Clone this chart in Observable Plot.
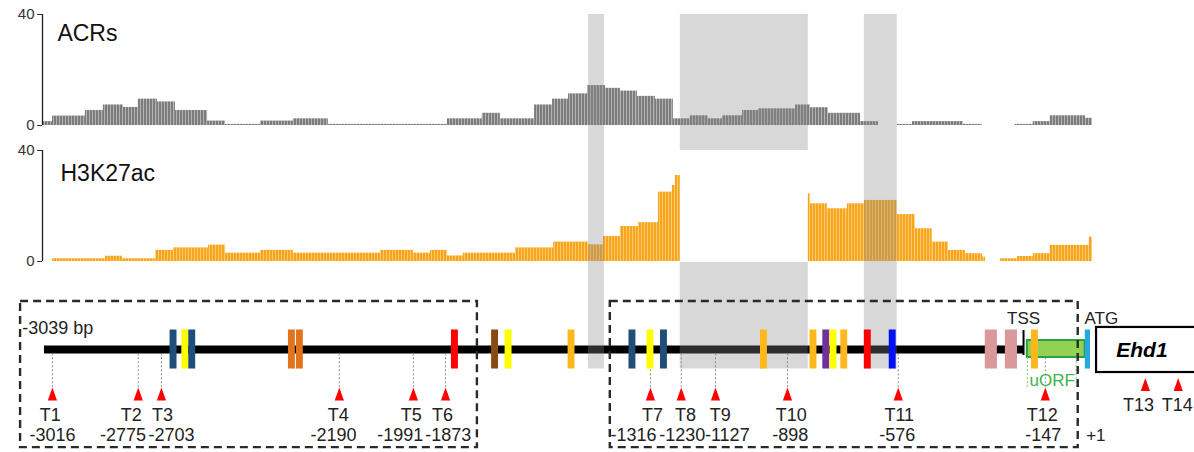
<!DOCTYPE html>
<html>
<head>
<meta charset="utf-8">
<script src="https://cdn.jsdelivr.net/npm/d3@7"></script>
<script src="https://cdn.jsdelivr.net/npm/@observablehq/plot@0.6"></script>
<style>
  body { margin: 0; background: #fff; }
  #wrap { position: relative; width: 1194px; height: 452px; overflow: hidden; background: #fff; }
  #wrap > svg { position: absolute; left: 0; }
</style>
</head>
<body>
<svg width="0" height="0" style="position:absolute">
  <defs>
    <pattern id="stripeGray" width="3" height="10" patternUnits="userSpaceOnUse">
      <rect x="0" y="0" width="2.2" height="10" fill="#7c7c7c"></rect>
      <rect x="2.2" y="0" width="0.8" height="10" fill="#a8a8a8"></rect>
    </pattern>
    <pattern id="stripeOrange" width="3" height="10" patternUnits="userSpaceOnUse">
      <rect x="0" y="0" width="2.4" height="10" fill="#f8a51c"></rect>
      <rect x="2.4" y="0" width="0.6" height="10" fill="#fbbd50"></rect>
    </pattern>
  </defs>
</svg>
<div id="wrap"></div>
<script>
// ---------------- DATA (positions in bp relative to ATG) ----------------
// ACR coverage: step segments, boundaries and values
const acrEdges = [-3045,-3016,-2921,-2869,-2811,-2768,-2713,-2661,-2568,-2516,-2415,-2320,-2219,-1875,-1774,-1722,-1623,-1571,-1525,-1470,-1418,-1375,-1326,-1274,-1222,-1173,-1121,-1080,-1022,-976,-869,-826,-774,-681,-629,-575,-531,-384,-329,-234,-182,-133,-31,-11];
const acrValues = [1.4,3.4,5.4,7.4,6.5,9.5,8.5,5.4,1.6,0.4,1.6,2.4,0.4,2.4,4.4,2.4,7.4,9.5,11.4,14.4,13.4,12.4,10.5,9.5,2.4,3.5,2.4,3.5,5.4,6.0,7.4,6.4,4.4,1.4,0,0.4,1.4,0.4,0,0.4,1.4,3.5,2.6];

// H3K27ac coverage
const h3Edges = [-3016,-2863,-2814,-2718,-2666,-2565,-2516,-2415,-2320,-2068,-1973,-1924,-1875,-1829,-1678,-1568,-1467,-1424,-1375,-1323,-1265,-1225,-1216,-1202,-832,-826,-777,-719,-670,-575,-523,-474,-427,-378,-329,-320,-277,-228,-182,-133,-20,-11];
const h3Values = [1.0,1.9,1.0,4.0,4.9,5.9,3.0,4.0,3.0,4.0,3.0,4.0,2.0,3.0,4.9,7.0,6.0,9.0,12.6,14.0,25.0,27.4,31.0,0,24.4,20.8,19.0,20.8,22.0,16.9,11.8,7.0,4.0,2.8,1.6,0,1.0,1.8,2.8,5.8,8.8];

const trackTicks = [0, 40];
const trackNames = ["ACRs", "H3K27ac"];

// highlighted regions
const bandStart = [-1467, -1202, -670];
const bandEnd   = [-1421,  -832, -575];
const bandInTrack2 = [true, false, true];

// motif features on the promoter
const featPos  = [-2666,-2632,-2612,-2324,-2301,-1853,-1737,-1698,-1516,-1340,-1288,-1249,-960,-817,-780,-759,-728,-660,-588,-303,-245,-177,-24];
const featLen  = [20,20,20,20,20,20,20,20,20,20,20,20,20,20,20,20,20,20,20,35,35,20,15];
const featType = ["navy","yellow","navy","orange","orange","red","brown","yellow","gold","navy","yellow","navy","gold","gold","purple","yellow","gold","red","blue","pink","pink","gold","cyan"];

// transcription start sites
const tssName     = ["T1","T2","T3","T4","T5","T6","T7","T8","T9","T10","T11","T12"];
const tssPos      = [-3016,-2768,-2701,-2187,-1973,-1880,-1288,-1199,-1100,-892,-572,-147];
const tssNamePos  = [-3022,-2788,-2698,-2190,-1979,-1889,-1282,-1187,-1086,-881,-569,-156];
const tssLabel    = ["-3016","-2775","-2703","-2190","-1991","-1873","-1316","-1230","-1127","-898","-576","-147"];
const tssLabelPos = [-3016,-2812,-2672,-2204,-2011,-1872,-1337,-1196,-1066,-884,-575,-153];
const cdsName     = ["T13","T14"];
const cdsPos      = [142, 237];
const cdsNamePos  = [122, 234];

// gene structure
const promoterStart = -3039;
const tssMain = -210;
const uorfStart = -199, uorfEnd = -32;
const uorfGuide = [-199, -58];
const geneStart = 1, geneEnd = 320;
const boxStart = [-3108, -1404];
const boxEnd   = [-1788, -52];

// ---------------- STYLE ----------------
const FONT = "'Liberation Sans', Arial, sans-serif";
const typeColor = {navy:"#1f4e79", yellow:"#ffff00", orange:"#e0731c", red:"#ff0000", brown:"#8b4a14",
  gold:"#ffb81c", purple:"#7030a0", blue:"#0010f0", pink:"#d9999a", cyan:"#27a9de"};
const bandFill = "#888888", bandOpacity = 0.33;
const xMax = 284;
const trackXMin = -3045;
const idx = n => d3.range(n);

const wrap = document.getElementById("wrap");

function track(edges, values, fill, name, opts) {
  const n = values.length;
  const bands = idx(bandStart.length).filter(i => opts.allBands || bandInTrack2[i]);
  const svg = Plot.plot({
    width: 1194, height: opts.height,
    marginLeft: 42, marginRight: 0, marginTop: opts.marginTop, marginBottom: 0,
    x: {domain: [trackXMin, xMax], axis: null},
    y: {domain: [0, 40], range: opts.yRange, axis: null},
    style: {background: "transparent", overflow: "visible", fontFamily: FONT},
    marks: [
      Plot.rect(idx(n), {x1: i => edges[i], x2: i => edges[i + 1], y1: 0, y2: i => values[i], fill}),
      Plot.rect(bands, {x1: i => bandStart[i], x2: i => bandEnd[i], fill: bandFill, fillOpacity: bandOpacity}),
      Plot.ruleX([trackXMin], {y1: 0, y2: 40, stroke: "#222", strokeWidth: 1.3}),
      Plot.axisY({ticks: trackTicks, tickSize: 5, tickPadding: 3, fontSize: 15, label: null, color: "#333"}),
      Plot.text([name], {x: opts.titleX, y: opts.titleY, text: d => d, textAnchor: "start", fontSize: 23, fill: "#111"})
    ]
  });
  svg.style.top = opts.top + "px";
  return svg;
}

wrap.appendChild(track(acrEdges, acrValues, "url(#stripeGray)", trackNames[0],
  {height: 150, marginTop: 14, yRange: [125, 14], top: 0, allBands: true, titleX: -3002, titleY: 33}));
wrap.appendChild(track(h3Edges, h3Values, "url(#stripeOrange)", trackNames[1],
  {height: 112, marginTop: 0, yRange: [111, 0], top: 150, allBands: false, titleX: -2993, titleY: 31.7}));

// ---------------- GENE DIAGRAM ----------------
const yTop = 4.46;
const tri = { draw(ctx) { const w = 4.6, h = 13; ctx.moveTo(0, -h / 2); ctx.lineTo(w, h / 2); ctx.lineTo(-w, h / 2); ctx.closePath(); } };
const nT = tssPos.length;
const gene = Plot.plot({
  width: 1194, height: 190, marginLeft: 0, marginRight: 0, marginTop: 0, marginBottom: 0,
  x: {domain: [-3166, xMax], axis: null},
  y: {domain: [-5.28, yTop], range: [190, 0], axis: null},
  color: {type: "identity"},
  style: {background: "transparent", overflow: "visible", fontFamily: FONT},
  marks: [
    // promoter line
    Plot.ruleY([0], {x1: () => promoterStart, x2: () => tssMain, stroke: "#000", strokeWidth: 8}),
    // highlight bands (overlay)
    Plot.rect(idx(bandStart.length), {x1: i => bandStart[i], x2: i => bandEnd[i], y1: -1, y2: yTop, fill: bandFill, fillOpacity: bandOpacity}),
    // dotted guides to TSS markers
    Plot.ruleX(idx(nT), {x: i => tssPos[i], y1: -0.22, y2: -1.95, stroke: "#8a8a8a", strokeWidth: 1, strokeDasharray: "2,2"}),
    // uORF
    Plot.rect([0], {x1: () => uorfStart, x2: () => uorfEnd, y1: -0.41, y2: 0.46, fill: "#93d152", stroke: "#27a046", strokeWidth: 2}),
    Plot.ruleX(uorfGuide, {y1: -0.41, y2: -2.0, stroke: "#7fcf8a", strokeWidth: 1, strokeDasharray: "2,2"}),
    Plot.text(["uORF"], {x: () => -127, y: -1.59, text: d => d, fontSize: 17, fill: "#3cb54a"}),
    // TSS tick
    Plot.ruleX([tssMain], {y1: -0.31, y2: 0.97, stroke: "#000", strokeWidth: 2}),
    // motif features
    Plot.rect(idx(featPos.length), {x1: i => featPos[i] - featLen[i] / 2, x2: i => featPos[i] + featLen[i] / 2, y1: -1, y2: 1, fill: i => typeColor[featType[i]]}),
    // Ehd1 gene body
    Plot.rect([0], {x1: () => geneStart, x2: () => geneEnd, y1: -1.18, y2: 1.13, fill: "#fff", stroke: "#000", strokeWidth: 2.2}),
    Plot.text(["Ehd1"], {x: () => 132, y: -0.05, text: d => d, fontSize: 21, fontWeight: "bold", fontStyle: "italic", fill: "#000"}),
    // TSS markers
    Plot.dot(idx(nT), {x: i => tssPos[i], y: -2.28, symbol: tri, r: 5, fill: "#ff0000", stroke: "none"}),
    Plot.text(idx(nT), {x: i => tssNamePos[i], y: -3.38, text: i => tssName[i], fontSize: 18, fill: "#222"}),
    Plot.text(idx(nT), {x: i => tssLabelPos[i], y: -4.41, text: i => tssLabel[i], fontSize: 18, fill: "#222"}),
    Plot.dot(idx(cdsPos.length), {x: i => cdsPos[i], y: -1.79, symbol: tri, r: 5, fill: "#ff0000", stroke: "none"}),
    Plot.text(idx(cdsPos.length), {x: i => cdsNamePos[i], y: -2.87, text: i => cdsName[i], fontSize: 18, fill: "#222"}),
    // labels
    Plot.text(["-3039 bp"], {x: () => -3103, y: 1.08, text: d => d, textAnchor: "start", fontSize: 18, fill: "#222"}),
    Plot.text(["TSS"], {x: () => tssMain, y: 1.59, text: d => d, fontSize: 17, fill: "#222"}),
    Plot.text(["ATG"], {x: () => -34, y: 1.59, text: d => d, textAnchor: "start", fontSize: 17, fill: "#222"}),
    Plot.text(["+1"], {x: () => -29, y: -4.41, text: d => d, textAnchor: "start", fontSize: 17, fill: "#222"}),
    // dashed boxes
    Plot.rect(idx(boxStart.length), {x1: i => boxStart[i], x2: i => boxEnd[i], y1: -5.03, y2: 2.46, fill: "none", stroke: "#2a2a2a", strokeWidth: 2.4, strokeDasharray: "8,5"})
  ]
});
gene.style.top = "262px";
wrap.appendChild(gene);
</script>
</body>
</html>
